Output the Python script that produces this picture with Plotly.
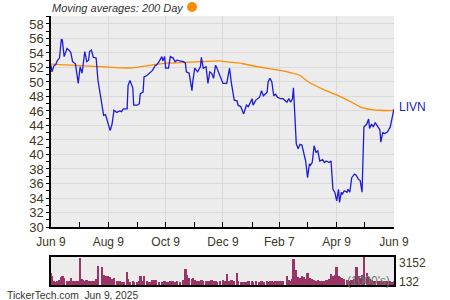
import plotly.graph_objects as go

# ---------------- data ----------------
dates = [
    "2024-06-09","2024-06-10","2024-06-12","2024-06-14","2024-06-16","2024-06-18","2024-06-20","2024-06-21","2024-06-23","2024-06-26",
    "2024-06-28","2024-06-30","2024-07-02","2024-07-05","2024-07-08","2024-07-10","2024-07-12","2024-07-13","2024-07-15","2024-07-17",
    "2024-07-19","2024-07-20","2024-07-22","2024-07-24","2024-07-27","2024-07-29","2024-08-02","2024-08-04","2024-08-06","2024-08-08",
    "2024-08-11","2024-08-13","2024-08-15","2024-08-18","2024-08-21","2024-08-23","2024-08-25","2024-08-29","2024-08-30","2024-09-01",
    "2024-09-04","2024-09-05","2024-09-09","2024-09-11","2024-09-12","2024-09-15","2024-09-16","2024-09-19","2024-09-21","2024-09-22",
    "2024-09-25","2024-09-28","2024-09-29","2024-10-02","2024-10-05","2024-10-06","2024-10-08","2024-10-09","2024-10-12","2024-10-14",
    "2024-10-17","2024-10-19","2024-10-21","2024-10-24","2024-10-28","2024-10-30","2024-10-31","2024-11-03","2024-11-06","2024-11-07",
    "2024-11-09","2024-11-12","2024-11-15","2024-11-16","2024-11-18","2024-11-21","2024-11-23","2024-11-25","2024-11-27","2024-11-29",
    "2024-12-01","2024-12-02","2024-12-06","2024-12-09","2024-12-11","2024-12-13","2024-12-16","2024-12-18","2024-12-21","2024-12-24",
    "2024-12-25","2024-12-28","2024-12-31","2025-01-03","2025-01-05","2025-01-09","2025-01-10","2025-01-13","2025-01-17","2025-01-19",
    "2025-01-21","2025-01-25","2025-01-26","2025-01-28","2025-01-30","2025-02-01","2025-02-03","2025-02-05","2025-02-08","2025-02-11",
    "2025-02-15","2025-02-17","2025-02-19","2025-02-21","2025-02-22","2025-02-24","2025-02-25","2025-02-27","2025-03-01","2025-03-03",
    "2025-03-05","2025-03-07","2025-03-09","2025-03-11","2025-03-12","2025-03-14","2025-03-16","2025-03-18","2025-03-20","2025-03-22",
    "2025-03-25","2025-03-27","2025-03-29","2025-04-01","2025-04-03","2025-04-04","2025-04-05","2025-04-07","2025-04-09","2025-04-11",
    "2025-04-12","2025-04-14","2025-04-15","2025-04-17","2025-04-20","2025-04-21","2025-04-23","2025-04-25","2025-04-28","2025-04-30",
    "2025-05-02","2025-05-04","2025-05-06","2025-05-08","2025-05-11","2025-05-13","2025-05-14","2025-05-16","2025-05-18","2025-05-20",
    "2025-05-23","2025-05-25","2025-05-26","2025-05-28","2025-05-30","2025-06-02","2025-06-05","2025-06-07","2025-06-09",
]
prices = [
    52.3, 51.4, 52.2, 52.4, 53.0, 53.3, 55.9, 55.8, 53.5, 54.6,
    54.4, 54.1, 52.8, 52.5, 49.8, 52.1, 51.2, 52.3, 54.2, 52.8,
    53.0, 54.2, 54.4, 53.4, 53.3, 50.2, 47.2, 45.4, 45.5, 44.7,
    43.3, 44.2, 46.1, 45.8, 46.0, 45.9, 46.3, 46.3, 49.5, 50.2,
    49.2, 46.8, 46.8, 47.0, 48.4, 48.6, 50.7, 50.9, 51.1, 51.3,
    51.6, 52.3, 52.3, 52.8, 53.5, 52.9, 53.5, 51.9, 51.9, 53.5,
    53.3, 52.8, 53.0, 52.9, 52.8, 52.6, 51.4, 51.2, 48.8, 50.2,
    51.9, 51.4, 52.1, 53.4, 51.9, 52.1, 49.8, 51.4, 51.2, 50.5,
    52.3, 52.1, 50.9, 49.8, 49.8, 49.8, 51.9, 49.8, 47.5, 47.4,
    46.8, 46.6, 45.6, 46.8, 46.6, 47.7, 46.8, 47.5, 47.9, 48.8,
    48.1, 48.6, 50.0, 50.5, 50.0, 48.1, 48.3, 47.9, 47.7, 47.7,
    47.2, 47.7, 47.2, 47.7, 49.2, 42.9, 41.5, 40.8, 41.4, 41.3,
    40.3, 39.1, 36.8, 38.7, 38.5, 38.9, 41.2, 40.3, 40.5, 39.1,
    39.3, 38.9, 39.1, 38.9, 39.1, 37.5, 35.2, 34.8, 33.6, 35.2,
    33.4, 34.8, 34.5, 35.0, 34.8, 35.2, 34.8, 36.8, 37.3, 37.1,
    36.6, 36.4, 34.8, 43.8, 44.2, 44.9, 43.6, 44.2, 43.8, 44.4,
    43.7, 43.4, 41.7, 43.0, 42.9, 43.1, 43.8, 44.9, 46.3,
]
volumes = [
    1400, 1000, 450, 400, 450, 600, 900, 1000, 800, 500,
    450, 800, 450, 500, 500, 3000, 700, 600, 500, 600,
    450, 500, 450, 500, 700, 2150, 2000, 1200, 1000, 1000,
    900, 700, 800, 500, 450, 400, 400, 1450, 700, 400,
    450, 400, 400, 450, 1100, 500, 1000, 500, 400, 400,
    600, 600, 400, 350, 400, 350, 450, 400, 400, 500,
    500, 400, 500, 400, 600, 1850, 1200, 800, 700, 800,
    600, 500, 500, 600, 450, 500, 450, 500, 600, 450,
    500, 400, 500, 600, 500, 1300, 500, 600, 500, 1350,
    500, 350, 400, 400, 450, 500, 400, 450, 400, 500,
    400, 450, 400, 500, 450, 400, 500, 450, 500, 450,
    1100, 600, 500, 700, 2900, 1700, 1000, 900, 800, 1000,
    900, 700, 1350, 800, 700, 700, 600, 500, 600, 500,
    500, 500, 600, 700, 1300, 800, 1000, 1200, 2050, 1100,
    900, 800, 700, 700, 600, 600, 500, 600, 700, 2050,
    1000, 800, 1200, 3152, 1400, 900, 700, 600, 500, 500,
    450, 500, 450, 400, 450, 500, 450, 400, 500,
]
ma_dates = [
    "2024-06-09","2024-07-20","2024-08-21","2024-09-04","2024-09-22","2024-10-10","2024-11-15","2024-12-06",
    "2024-12-11","2024-12-29","2025-01-15","2025-02-08","2025-02-20","2025-03-01","2025-03-10","2025-03-28",
    "2025-04-10","2025-04-25","2025-05-05","2025-05-16","2025-05-25","2025-06-09",
]
ma_values = [
    52.45, 52.2, 51.95, 51.95, 52.3, 52.6, 52.8, 52.9,
    52.8, 52.55, 52.1, 51.6, 51.25, 50.9, 50.0, 48.85,
    48.15, 47.2, 46.5, 46.2, 46.1, 46.05,
]
tick_dates = ["2024-06-09","2024-08-09","2024-10-09","2024-12-09","2025-02-07","2025-04-09","2025-06-09"]
tick_labels = ["Jun 9","Aug 9","Oct 9","Dec 9","Feb 7","Apr 9","Jun 9"]
minor_dates = ["2024-07-09","2024-09-09","2024-11-09","2025-01-09","2025-03-09","2025-05-09"]
y_ticks = list(range(30, 59, 2))
vol_max, vol_min = 3152, 132
symbol = "LIVN"

# ---------------- figure ----------------
W, H = 450, 300
def px(x): return x / W
def py(y): return 1 - y / H

label_color = "#40361f"
bg = "#ececec"
grid = "#d9d9d9"

fig = go.Figure()
fig.add_trace(go.Scatter(x=ma_dates, y=ma_values, mode="lines",
                         line=dict(color="#ff8c00", width=1.3, shape="spline", smoothing=0.3),
                         xaxis="x", yaxis="y", hoverinfo="skip"))
fig.add_trace(go.Scatter(x=dates, y=prices, mode="lines",
                         line=dict(color="#1c1cd8", width=1.3),
                         xaxis="x", yaxis="y", hoverinfo="skip"))
fig.add_trace(go.Bar(x=dates, y=volumes, marker=dict(color="#9c3366", line=dict(width=0)),
                     width=2.6 * 86400000, xaxis="x2", yaxis="y2", hoverinfo="skip"))

xr = ["2024-06-09", "2025-06-09"]
fig.update_layout(
    width=W, height=H, margin=dict(l=0, r=0, t=0, b=0, pad=0, autoexpand=False),
    paper_bgcolor="white", plot_bgcolor=bg, showlegend=False, bargap=0,
    font=dict(family="Liberation Sans, Arial, sans-serif", size=13, color=label_color),
    xaxis=dict(domain=[px(51), px(394)], range=xr, type="date", automargin=False,
               tickmode="array", tickvals=tick_dates, ticktext=tick_labels,
               ticks="inside", ticklen=5, tickcolor="black", tickwidth=1,
               ticklabelstandoff=3,
               showline=True, linecolor="black", linewidth=1.5,
               showgrid=True, gridcolor=grid, gridwidth=1.2,
               minor=dict(tickmode="array", tickvals=minor_dates, ticks="inside",
                          ticklen=5, tickcolor="black", showgrid=False),
               tickfont=dict(size=12, color=label_color), zeroline=False,
               anchor="y", fixedrange=True),
    yaxis=dict(domain=[py(227), py(16)], range=[30, 59.1], automargin=False,
               tickmode="array", tickvals=y_ticks,
               ticks="outside", ticklen=3, tickcolor="black",
               minor=dict(dtick=1, ticks="outside", ticklen=3, tickcolor="black", showgrid=False),
               showline=True, linecolor="black", linewidth=1.5,
               showgrid=True, gridcolor=grid, gridwidth=1.2,
               tickfont=dict(size=13, color=label_color), zeroline=False,
               anchor="x", fixedrange=True),
    xaxis2=dict(domain=[px(51), px(394)], range=xr, type="date", automargin=False,
                showticklabels=False, ticks="", showgrid=False,
                showline=True, linecolor="black", linewidth=1.5, mirror=True,
                anchor="y2", zeroline=False),
    yaxis2=dict(domain=[py(285), py(256.5)], range=[0, vol_max], automargin=False,
                showticklabels=False, ticks="", showgrid=False,
                showline=True, linecolor="black", linewidth=1.5, mirror=True,
                anchor="x2", zeroline=False),
)

annotations = [
    dict(x=px(50), y=py(8), text="<i>Moving averages: 200 Day</i>", showarrow=False,
         xanchor="left", yanchor="middle", font=dict(size=11, color="#333333")),
    dict(x=px(397), y=py(107), text=symbol, showarrow=False, xanchor="left", yanchor="middle",
         font=dict(size=12, color="#2020c8")),
    dict(x=px(397), y=py(262.5), text=str(vol_max), showarrow=False, xanchor="left", yanchor="middle",
         font=dict(size=12, color=label_color)),
    dict(x=px(397), y=py(282), text=str(vol_min), showarrow=False, xanchor="left", yanchor="middle",
         font=dict(size=12, color=label_color)),
    dict(x=px(392), y=py(281), text="(1000's)", showarrow=False, xanchor="right", yanchor="middle",
         font=dict(size=12, color="#5f7f6f")),
    dict(x=px(5), y=py(295), text="TickerTech.com  Jun 9, 2025", showarrow=False,
         xanchor="left", yanchor="middle", font=dict(size=10.3, color="#333333")),
]
for a in annotations:
    a.update(xref="paper", yref="paper")
fig.update_layout(annotations=annotations)

fig.add_shape(type="circle", xref="paper", yref="paper",
              x0=px(187), x1=px(197), y0=py(12), y1=py(2),
              fillcolor="#ff8c00", line=dict(width=0))

fig.write_html("out.html")
